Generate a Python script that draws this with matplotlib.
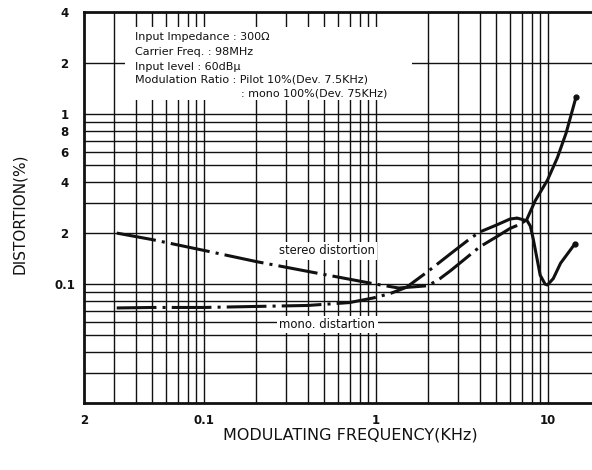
import matplotlib
matplotlib.use("Agg")
import matplotlib.pyplot as plt
from matplotlib.ticker import FixedLocator, FixedFormatter, NullFormatter

INK = "#111111"

# curves (frequency in kHz, distortion in %)
stereo_f = [0.031, 0.05, 0.1, 0.2, 0.4, 0.7, 1.0, 1.35, 2.0, 2.35, 2.7, 3.2, 4.0, 5.0,
            6.0, 6.9, 7.5, 8.4, 9.9, 11.3, 12.7, 14.5]
stereo_d = [0.200, 0.183, 0.158, 0.136, 0.119, 0.107, 0.100, 0.095, 0.098, 0.108,
            0.120, 0.138, 0.166, 0.190, 0.213, 0.226, 0.240, 0.310, 0.410, 0.555,
            0.775, 1.26]
mono_f = [0.031, 0.05, 0.1, 0.2, 0.4, 0.7, 0.96, 1.2, 1.5, 2.0, 2.7, 3.0, 3.5,
          4.0, 5.0, 6.0, 6.6, 7.55, 7.87, 8.18, 8.6, 8.98, 9.6, 9.9, 10.7, 11.8, 14.3]
mono_d = [0.0725, 0.073, 0.073, 0.074, 0.075, 0.078, 0.083, 0.088, 0.096, 0.119,
          0.151, 0.164, 0.185, 0.203, 0.223, 0.242, 0.245, 0.236, 0.220,
          0.185, 0.142, 0.113, 0.100, 0.099, 0.108, 0.133, 0.173]
stereo_solid_from = 7.5
mono_solid_from = 6.6

# grid and tick labels
x_grid = [0.03, 0.04, 0.05, 0.06, 0.07, 0.08, 0.09, 0.1, 0.2, 0.3, 0.4, 0.5, 0.6,
          0.7, 0.8, 0.9, 1, 2, 3, 4, 5, 6, 7, 8, 9, 10]
y_grid = [0.03, 0.04, 0.05, 0.06, 0.07, 0.08, 0.09, 0.1, 0.2, 0.3, 0.4, 0.5, 0.6,
          0.7, 0.8, 0.9, 1, 2]
x_ticks = [0.02, 0.1, 1, 10]
x_labels = ["2", "0.1", "1", "10"]
y_ticks = [0.1, 0.2, 0.4, 0.6, 0.8, 1, 2, 4]
y_labels = ["0.1", "2", "4", "6", "8", "1", "2", "4"]

notes = ["Input Impedance : 300Ω",
         "Carrier Freq. : 98MHz",
         "Input level : 60dBμ",
         "Modulation Ratio : Pilot 10%(Dev. 7.5KHz)"]
note_cont = ": mono 100%(Dev. 75KHz)"

plt.rcParams["font.family"] = ["DejaVu Sans"]

fig = plt.figure(figsize=(5.92, 4.70), dpi=100)
W, H = 592, 470
# plot frame: x 84..600 px (20 kHz falls just past the right edge), y 12..403 px
ax = fig.add_axes([84 / W, 1 - 403 / H, 516 / W, 391 / H])
ax.set_xscale("log"); ax.set_yscale("log")
ax.set_xlim(0.02, 20); ax.set_ylim(0.02, 4)

ax.xaxis.set_major_locator(FixedLocator(x_ticks))
ax.xaxis.set_major_formatter(FixedFormatter(x_labels))
ax.xaxis.set_minor_locator(FixedLocator(x_grid))
ax.xaxis.set_minor_formatter(NullFormatter())
ax.yaxis.set_major_locator(FixedLocator(y_ticks))
ax.yaxis.set_major_formatter(FixedFormatter(y_labels))
ax.yaxis.set_minor_locator(FixedLocator(y_grid))
ax.yaxis.set_minor_formatter(NullFormatter())
ax.grid(False)
for v in x_grid:
    ax.axvline(v, color=INK, lw=1.0, zorder=1)
for v in y_grid:
    ax.axhline(v, color=INK, lw=1.0, zorder=1)

ax.tick_params(which="both", length=0, colors=INK)
ax.tick_params(axis="x", pad=8, labelsize=8.5)
ax.tick_params(axis="y", pad=14, labelsize=8.5)
for lab in ax.get_xticklabels() + ax.get_yticklabels():
    lab.set_fontweight("bold")
for lab in ax.get_yticklabels():
    lab.set_horizontalalignment("center")
for s in ["left", "bottom", "top"]:
    ax.spines[s].set_linewidth(2.0); ax.spines[s].set_color(INK)
ax.spines["right"].set_visible(False)

# white box behind the test conditions
ax.add_patch(plt.Rectangle((0.0795, 0.775), 0.5565, 0.187, transform=ax.transAxes,
                           fc="white", ec="none", zorder=2))
ys = [0.936, 0.898, 0.859, 0.827]
for t, y in zip(notes, ys):
    ax.text(0.098, y, t, transform=ax.transAxes, fontsize=8.0, color=INK,
            va="center", ha="left", zorder=5)
ax.text(0.304, 0.792, note_cont, transform=ax.transAxes, fontsize=8.0, color=INK,
        va="center", ha="left", zorder=5)

dd = (13, 2.0, 1.0, 2.0)


def curve(f, d, split):
    a = [(x, y) for x, y in zip(f, d) if x <= split]
    b = [(x, y) for x, y in zip(f, d) if x >= split]
    ax.plot(*zip(*a), color=INK, lw=2.2, dashes=dd, dash_capstyle="butt", zorder=3)
    ax.plot(*zip(*b), color=INK, lw=2.2, solid_capstyle="round", zorder=3)
    ax.plot(f[-1], d[-1], "o", color=INK, ms=3.5, zorder=3)


curve(stereo_f, stereo_d, stereo_solid_from)
curve(mono_f, mono_d, mono_solid_from)

box = dict(fc="white", ec="none", pad=1.5)
ax.text(0.985, 0.157, "stereo distortion", ha="right", va="center", fontsize=8.4,
        color=INK, bbox=box, zorder=4)
ax.text(0.99, 0.0578, "mono. distartion", ha="right", va="center", fontsize=8.4,
        color=INK, bbox=box, zorder=4)

fig.text(20 / W, 1 - 214 / H, "DISTORTION(%)", rotation=90, ha="center", va="center",
         fontsize=11, color=INK)
fig.text(350 / W, 1 - 435 / H, "MODULATING FREQUENCY(KHz)", ha="center", va="center",
         fontsize=11.5, color=INK)

fig.savefig("out.png", dpi=100, facecolor="white")
